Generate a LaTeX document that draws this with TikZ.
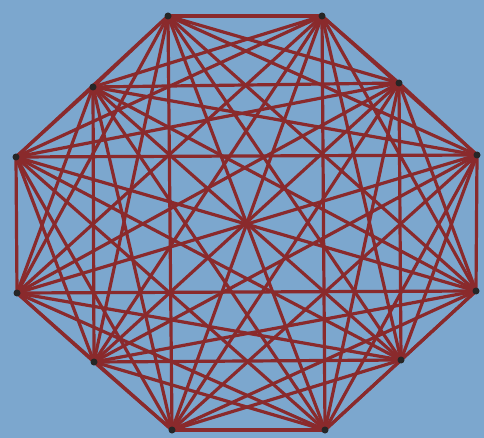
\documentclass[tikz,border=0pt]{standalone}
\definecolor{bgblue}{RGB}{124,167,206}
\definecolor{edgered}{RGB}{138,42,44}
\tikzset{
  vtx/.style={circle,fill=black!85,inner sep=0pt,minimum size=7pt},
  edge/.style={draw=edgered,line width=3.2pt}
}
\begin{document}
\begin{tikzpicture}[x=1pt,y=-1pt]
\fill[bgblue] (0,0) rectangle (484,438);
\useasboundingbox (0,0) rectangle (484,438);
\coordinate (v1) at (168,16);
\coordinate (v2) at (322,16);
\coordinate (v3) at (399,83);
\coordinate (v4) at (477,155);
\coordinate (v5) at (476,291);
\coordinate (v6) at (401,360);
\coordinate (v7) at (325,430);
\coordinate (v8) at (172,430);
\coordinate (v9) at (94,362);
\coordinate (v10) at (17,293);
\coordinate (v11) at (16,157);
\coordinate (v12) at (93,87);
\foreach \i in {1,...,11}{
  \pgfmathtruncatemacro{\s}{\i+1}
  \foreach \j in {\s,...,12}{
    \draw[edge] (v\i) -- (v\j);
  }
}
\foreach \i in {1,...,12}{
  \node[vtx] (n\i) at (v\i) {};
}
\end{tikzpicture}
\end{document}
